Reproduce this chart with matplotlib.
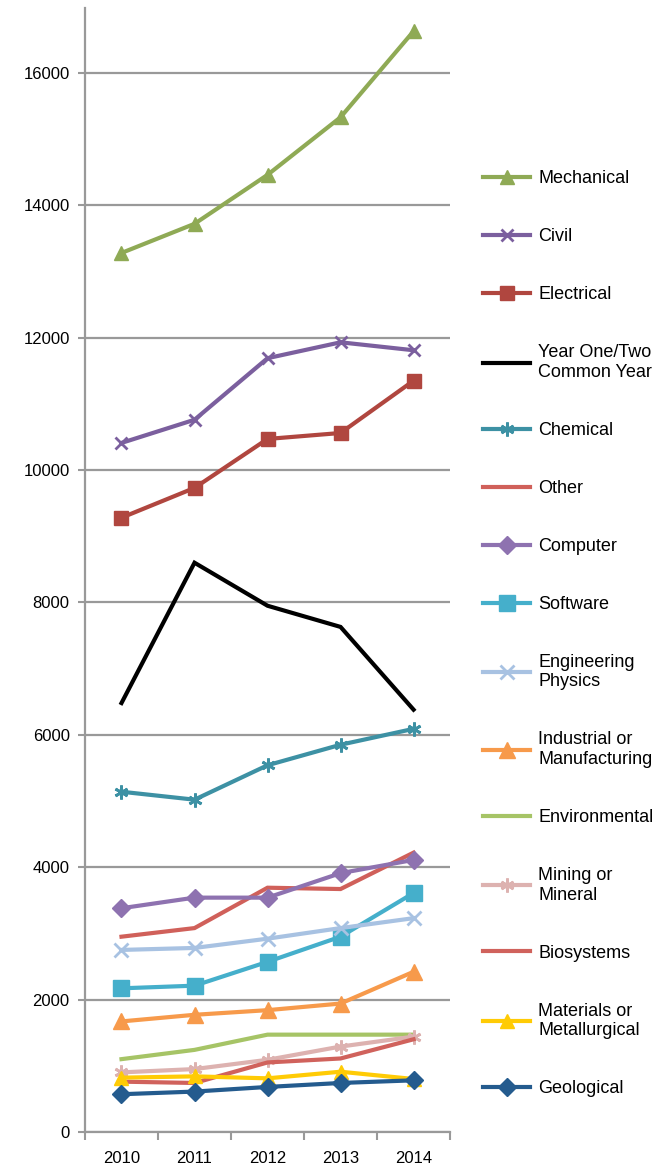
import matplotlib
matplotlib.use("Agg")
import matplotlib.pyplot as plt
from matplotlib import font_manager

# Data
years = ["2010", "2011", "2012", "2013", "2014"]

mechanical = [13280, 13720, 14460, 15330, 16630]
civil = [10410, 10760, 11690, 11930, 11810]
electrical = [9280, 9730, 10470, 10560, 11350]
year_one = [6480, 8600, 7950, 7630, 6380]
chemical = [5140, 5020, 5540, 5850, 6090]
other = [2950, 3080, 3690, 3670, 4220]
computer = [3380, 3540, 3540, 3910, 4110]
software = [2170, 2210, 2570, 2950, 3610]
eng_physics = [2750, 2780, 2920, 3080, 3230]
industrial = [1670, 1770, 1840, 1940, 2420]
environmental = [1100, 1240, 1470, 1470, 1470]
mining = [900, 950, 1090, 1290, 1440]
biosystems = [760, 740, 1050, 1110, 1400]
materials = [820, 840, 810, 910, 800]
geological = [570, 610, 680, 740, 780]

# pick a narrow font if there is one
names = {f.name for f in font_manager.fontManager.ttflist}
if "Liberation Sans Narrow" in names:
    plt.rcParams["font.family"] = "Liberation Sans Narrow"
else:
    plt.rcParams["font.family"] = "Liberation Sans"

series = [
    ("Mechanical", mechanical, "#8FAA55", "^", 10),
    ("Civil", civil, "#7B5F9E", "x", 9),
    ("Electrical", electrical, "#B0463F", "s", 10),
    ("Year One/Two\nCommon Year", year_one, "#000000", None, 0),
    ("Chemical", chemical, "#3D91A4", (6, 2, 0), 10),
    ("Other", other, "#D0605A", None, 0),
    ("Computer", computer, "#8E72B0", "D", 9),
    ("Software", software, "#45AFCB", "s", 11),
    ("Engineering\nPhysics", eng_physics, "#A8C2E2", "x", 10),
    ("Industrial or\nManufacturing", industrial, "#F79A4B", "^", 11),
    ("Environmental", environmental, "#A6C466", None, 0),
    ("Mining or\nMineral", mining, "#DDB2B0", (6, 2, 0), 10),
    ("Biosystems", biosystems, "#D0625C", None, 0),
    ("Materials or\nMetallurgical", materials, "#FFCB05", "^", 10),
    ("Geological", geological, "#245B8E", "D", 9),
]

fig = plt.figure(figsize=(6.65, 11.66), dpi=100)
ax = fig.add_axes([0.1278, 0.0292, 0.549, 0.9639])

x = list(range(len(years)))
for label, vals, color, marker, ms in series:
    ax.plot(x, vals, color=color, linewidth=3, marker=marker, markersize=ms,
            markeredgewidth=2 if marker in ("x", (6, 2, 0)) else 1,
            markeredgecolor=color, markerfacecolor=color, label=label,
            solid_joinstyle="miter")

ax.set_xlim(-0.5, 4.5)
ax.set_ylim(0, 16980)
ax.set_yticks(range(0, 16001, 2000))
ax.set_yticklabels([str(v) for v in range(0, 16001, 2000)], fontsize=12)
ax.yaxis.grid(True, color="#999999", linewidth=1.6)
ax.set_axisbelow(True)

# category labels centred, tick marks between categories
ax.set_xticks([i - 0.5 for i in range(len(years) + 1)])
ax.set_xticklabels([])
ax.set_xticks(x, minor=True)
ax.set_xticklabels(years, minor=True, fontsize=12)
ax.tick_params(axis="x", which="minor", length=0, pad=14)
ax.tick_params(axis="x", which="major", length=6, width=1.5, color="#999999")
ax.tick_params(axis="y", length=5, width=1.5, color="#999999", pad=6)

for side in ("top", "right"):
    ax.spines[side].set_visible(False)
for side in ("left", "bottom"):
    ax.spines[side].set_color("#999999")
    ax.spines[side].set_linewidth(1.6)

leg = ax.legend(loc="upper left", bbox_to_anchor=(1.071, 0.862), frameon=False,
                fontsize=13, labelspacing=2.27, handlelength=2.6,
                handletextpad=0.45, borderaxespad=0)

fig.savefig("out.png", dpi=100)
